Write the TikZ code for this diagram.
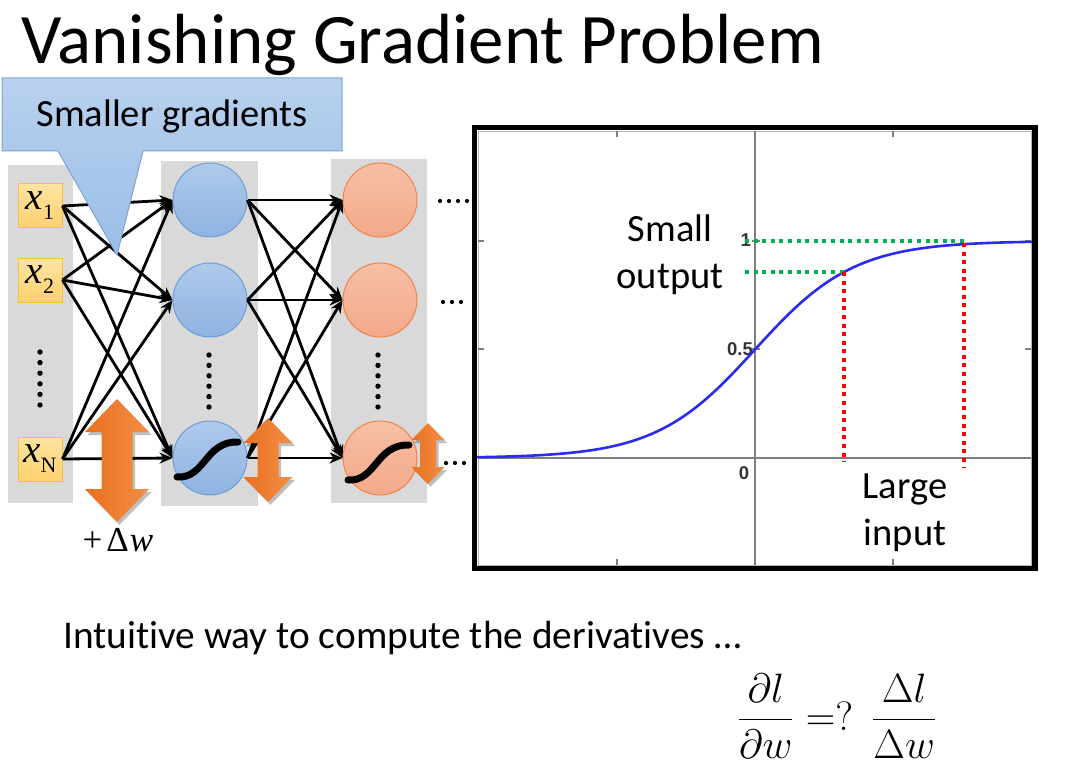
\documentclass[tikz,border=0pt]{standalone}
\usepackage{fontspec}
\setmainfont[Ligatures=NoCommon]{Carlito}
\newfontfamily\tickfont{Liberation Sans}
\newfontfamily\serifx{Liberation Serif}
\usetikzlibrary{arrows.meta}
\definecolor{colgrey}{HTML}{D9D9D9}
\definecolor{callT}{HTML}{B8D1EE}
\definecolor{callB}{HTML}{9BBEE7}
\definecolor{callD}{HTML}{7AA3D8}
\definecolor{inT}{HTML}{FFE3A3}
\definecolor{inB}{HTML}{FFD16E}
\definecolor{inD}{HTML}{F8C034}
\definecolor{blT}{HTML}{AFC9EB}
\definecolor{blB}{HTML}{8FB3E1}
\definecolor{blD}{HTML}{6A9FD8}
\definecolor{orT}{HTML}{F7BFA6}
\definecolor{orB}{HTML}{F3A98A}
\definecolor{orD}{HTML}{EE8446}
\definecolor{arL}{HTML}{E8701E}
\definecolor{arR}{HTML}{F48E47}
\definecolor{plotblue}{HTML}{2B2BF0}
\definecolor{plotgreen}{HTML}{00B050}
\definecolor{plotred}{HTML}{FF0000}
\definecolor{axgrey}{HTML}{7F7F7F}
\newcommand\dblarrow[6]{%
  \fill[black,opacity=0.25,shift={(2.5,3)}] (#1,#2) -- ({#1+#4},{#2+#5}) -- ({#1+#6},{#2+#5}) -- ({#1+#6},{#3-#5}) -- ({#1+#4},{#3-#5}) -- (#1,#3) -- ({#1-#4},{#3-#5}) -- ({#1-#6},{#3-#5}) -- ({#1-#6},{#2+#5}) -- ({#1-#4},{#2+#5}) -- cycle;
  \shade[left color=arL,right color=arR] (#1,#2) -- ({#1+#4},{#2+#5}) -- ({#1+#6},{#2+#5}) -- ({#1+#6},{#3-#5}) -- ({#1+#4},{#3-#5}) -- (#1,#3) -- ({#1-#4},{#3-#5}) -- ({#1-#6},{#3-#5}) -- ({#1-#6},{#2+#5}) -- ({#1-#4},{#2+#5}) -- cycle;}
\newcommand\bigmath[2]{\scalebox{#1}{\Huge$#2$}}
\newcommand\xin[1]{{\serifx\fontsize{39}{39}\selectfont\itshape x\raisebox{-10pt}{\upshape\fontsize{22}{22}\selectfont #1}}}
\begin{document}
\begin{tikzpicture}[x=1pt,y=-1pt,
  inbox/.style={draw=inD,line width=1pt,top color=inT,bottom color=inB,minimum width=44pt,minimum height=44pt,inner sep=0pt},
  hblue/.style={circle,draw=blD,line width=1pt,top color=blT,bottom color=blB,minimum size=74pt,inner sep=0pt},
  horange/.style={circle,draw=orD,line width=1pt,top color=orT,bottom color=orB,minimum size=74pt,inner sep=0pt},
  edge/.style={line width=2.8pt,-{Stealth[length=13pt,width=11pt]}},
  sshape/.style={line width=7pt,line cap=round},
  txt/.style={font=\fontsize{38.5}{46}\selectfont,inner sep=0pt},
  tick/.style={axgrey,line width=1.2pt},
  ticklab/.style={font=\tickfont\bfseries\fontsize{18.5}{18.5}\selectfont,text=black!80,inner sep=0pt},
  gdot/.style={plotgreen,line width=4pt,dash pattern=on 4pt off 4.6pt},
  rdot/.style={plotred,line width=4pt,dash pattern=on 4pt off 4.6pt}]
\useasboundingbox (0,0) rectangle (1083,767);
\fill[white] (0,0) rectangle (1083,767);
% title
\node[anchor=base west,inner sep=0pt,font=\fontsize{71}{71}\selectfont] (title) at (21,64) {Vanishing Gradient Problem};
% grey columns
\fill[colgrey] (8,165) rectangle (73,503);
\fill[colgrey] (161,161) rectangle (258,506);
\fill[colgrey] (331,159) rectangle (427,503);
% nodes
\node[inbox] (x1) at (40,206) {\raisebox{-3pt}{\xin{1}}};
\node[inbox] (x2) at (40,280) {\raisebox{-3pt}{\xin{2}}};
\node[inbox] (xN) at (40,459) {\raisebox{-3pt}{\xin{N}}};
\node[hblue] (h1) at (210,200) {};
\node[hblue] (h2) at (210,300) {};
\node[hblue] (h3) at (210,458) {};
\node[horange] (o1) at (380,200) {};
\node[horange] (o2) at (380,300) {};
\node[horange] (o3) at (380,458) {};
% edges
\foreach \a in {x1,x2,xN}{\foreach \b in {h1,h2,h3}{\draw[edge] (\a.east) -- (\b.west);}}
\foreach \a in {h1,h2,h3}{\foreach \b in {o1,o2,o3}{\draw[edge] (\a.east) -- (\b.west);}}
% vertical dots
\foreach \i in {0,...,5}{
  \fill (40,{352+\i*10.6}) circle (2.7);
  \fill (209,{355+\i*10.4}) circle (2.7);
  \fill (378,{355+\i*10.4}) circle (2.7);}
% horizontal dots
\foreach \i in {0,...,3}{\fill ({440+\i*9},201) circle (2.1);}
\foreach \i in {0,...,2}{\fill ({443+\i*9},302) circle (2.1);}
\foreach \i in {0,...,2}{\fill ({446+\i*9},463) circle (2.1);}
% sigmoid shapes
\draw[sshape] (177,477) .. controls (205,479) and (205,441) .. (238,442);
\draw[sshape] (348,480) .. controls (376,482) and (376,444) .. (409,445);
% callout
\shade[top color=callT,bottom color=callB] (2,78) -- (342,78) -- (342,151) -- (143,151) -- (117,255) -- (58,151) -- (2,151) -- cycle;
\draw[callD,line width=1pt] (2,78) -- (342,78) -- (342,151) -- (143,151) -- (117,255) -- (58,151) -- (2,151) -- cycle;
\node[txt,anchor=base] (call) at (172,127) {Smaller gradients};
% orange double arrows
\dblarrow{117}{399}{522}{32}{33}{15.5}
\dblarrow{268}{418}{502}{24.5}{25}{10.5}
\dblarrow{428}{423}{484}{16.5}{17}{8}
\node[inner sep=0pt,anchor=base] (dw) at (118,551) {\serifx\fontsize{35}{35}\selectfont +\kern4ptΔ\kern1pt\itshape w};
% plot
\draw[axgrey!60,line width=0.8pt] (478.5,131) rectangle (1031,565);
\draw[axgrey,line width=2pt] (478,458) -- (1031,458);
\draw[axgrey,line width=2pt] (755,131) -- (755,565);
\foreach \t in {617,893}{\draw[tick] (\t,131) -- (\t,137); \draw[tick] (\t,565) -- (\t,559);}
\foreach \t in {241,349}{\draw[tick] (478,\t) -- (484,\t); \draw[tick] (1031,\t) -- (1025,\t); \draw[tick] (752,\t) -- (760,\t);}
\node[ticklab,anchor=east] (l1) at (751,240) {1};
\node[ticklab,anchor=east] (l05) at (753,349) {0.5};
\node[ticklab] (l0) at (744,473) {0};
\draw[plotblue,line width=2.6pt] plot[domain=-5.6:5.6,samples=140] ({755+49.7*\x},{458-217/(1+exp(-\x))});
\draw[gdot] (745,241) -- (964,241);
\draw[gdot] (745,272) -- (844,272);
\draw[rdot] (844,272) -- (844,462);
\draw[rdot] (964,243) -- (964,467);
\draw[line width=5.5pt] (474.5,127.5) rectangle (1035,568.5);
\node[txt,anchor=base] (small) at (670,242) {Small};
\node[txt,anchor=base] (output) at (670,288) {output};
\node[txt,anchor=base] (large) at (905,498) {Large};
\node[txt,anchor=base] (input) at (905,545) {input};
% bottom text
\node[txt,anchor=base west,font=\fontsize{39.3}{46}\selectfont] (intu) at (63,648) {Intuitive way to compute the derivatives …};
\node[inner sep=0pt] (frac) at (837,716) {\bigmath{1.65}{\displaystyle\frac{\partial l}{\partial w} =?\;\, \frac{\Delta l}{\Delta w}}};
\end{tikzpicture}
\end{document}
